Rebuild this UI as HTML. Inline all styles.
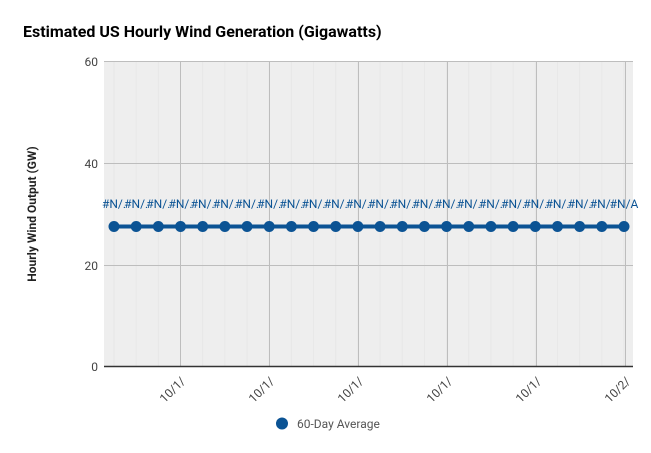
<!DOCTYPE html>
<html><head><style>body{margin:0;background:#fff}svg{display:block}</style></head><body>
<svg width="651" height="453" xmlns="http://www.w3.org/2000/svg" font-family="Roboto, 'Liberation Sans', sans-serif">
<rect width="651" height="453" fill="#fff"/>
<text x="23" y="37" font-size="16" font-weight="bold" fill="#000">Estimated US Hourly Wind Generation (Gigawatts)</text>
<rect x="104" y="61" width="529" height="306" fill="#eeeeee"/>
<g stroke="#e7e7e7" stroke-width="1" id="minor"></g>
<g stroke="#bdbdbd" stroke-width="1">
<line x1="104" y1="61.5" x2="633" y2="61.5"/><line x1="104" y1="163.5" x2="633" y2="163.5"/><line x1="104" y1="265.5" x2="633" y2="265.5"/>
<line x1="180.5" y1="61" x2="180.5" y2="367"/><line x1="269.5" y1="61" x2="269.5" y2="367"/><line x1="358.5" y1="61" x2="358.5" y2="367"/><line x1="447.5" y1="61" x2="447.5" y2="367"/><line x1="536.5" y1="61" x2="536.5" y2="367"/><line x1="625.5" y1="61" x2="625.5" y2="367"/>
</g>
<line x1="104" y1="366.5" x2="633" y2="366.5" stroke="#333" stroke-width="1.5"/>
<g font-size="12" fill="#444" text-anchor="end">
<text x="98" y="66">60</text><text x="98" y="168">40</text><text x="98" y="270">20</text><text x="98" y="371">0</text>
</g>
<text transform="translate(36,214) rotate(-90)" font-size="12" font-weight="bold" text-anchor="middle" fill="#222">Hourly Wind Output (GW)</text>
<g font-size="12" fill="#444" text-anchor="end">
<text transform="translate(186,382) rotate(-45)">10/1/</text>
<text transform="translate(275,382) rotate(-45)">10/1/</text>
<text transform="translate(364,382) rotate(-45)">10/1/</text>
<text transform="translate(453,382) rotate(-45)">10/1/</text>
<text transform="translate(542,382) rotate(-45)">10/1/</text>
<text transform="translate(631,382) rotate(-45)">10/2/</text>
</g>
<line x1="114" y1="226.5" x2="624" y2="226.5" stroke="#0b5394" stroke-width="4"/>
<g id="pts" fill="#0b5394"></g>
<g id="lbl" font-size="12" fill="#0b5394" text-anchor="middle"></g>
<script>
var p=document.getElementById('pts'),l=document.getElementById('lbl'),m=document.getElementById('minor'),ns='http://www.w3.org/2000/svg';
for(var i=0;i<24;i++){var x=114+i*510/23;
var c=document.createElementNS(ns,'circle');c.setAttribute('cx',x);c.setAttribute('cy',226.5);c.setAttribute('r',5.5);p.appendChild(c);
var t=document.createElementNS(ns,'text');t.setAttribute('x',x);t.setAttribute('y',208);t.textContent=i==23?'#N/A':'#N/.';l.appendChild(t);
var g=document.createElementNS(ns,'line');g.setAttribute('x1',x);g.setAttribute('x2',x);g.setAttribute('y1',61);g.setAttribute('y2',367);m.appendChild(g);}
</script>
<circle cx="282" cy="423.5" r="6" fill="#0b5394"/>
<text x="297" y="428" font-size="12" fill="#555">60-Day Average</text>
</svg>
</body></html>
